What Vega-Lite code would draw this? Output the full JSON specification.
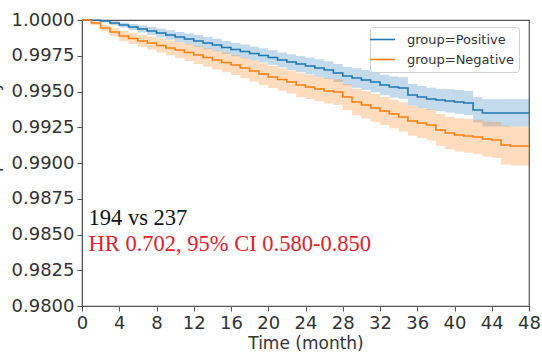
{
  "$schema": "https://vega.github.io/schema/vega-lite/v6.json",
  "width": 447,
  "height": 286,
  "autosize": {"type": "none"},
  "padding": {"left": 82, "top": 20, "right": 13, "bottom": 48},
  "background": "white",
  "config": {
    "view": {"stroke": "#555", "strokeWidth": 1.2},
    "axis": {
      "labelFont": "DejaVu Sans", "labelFontSize": 18, "labelColor": "#333",
      "titleFont": "DejaVu Sans", "titleFontSize": 17, "titleFontWeight": "normal", "titleColor": "#333",
      "domainColor": "#555", "tickColor": "#555", "tickSize": 5, "labelPadding": 3, "grid": false,
      "labelOverlap": false, "labelFlush": false
    },
    "legend": {
      "orient": "none", "legendX": 288, "legendY": 7, "title": null,
      "symbolType": "M-2,0H2", "symbolSize": 156, "symbolStrokeWidth": 1.6, "symbolOpacity": 1,
      "labelFont": "DejaVu Sans", "labelFontSize": 13, "labelColor": "#333",
      "labelOffset": 17, "padding": 5, "rowPadding": 5,
      "strokeColor": "#d0d0d0", "fillColor": "white", "cornerRadius": 3
    }
  },
  "datasets": {
    "km": [
      {"g":"Positive","t":0,"s":1.0,"lo":1.0,"hi":1.0},
      {"g":"Positive","t":1,"s":0.99998,"lo":0.99995,"hi":1.0},
      {"g":"Positive","t":2,"s":0.99993,"lo":0.99983,"hi":1.0},
      {"g":"Positive","t":3,"s":0.99979,"lo":0.99965,"hi":0.99993},
      {"g":"Positive","t":4,"s":0.99965,"lo":0.99948,"hi":0.99983},
      {"g":"Positive","t":5,"s":0.99951,"lo":0.9993,"hi":0.99972},
      {"g":"Positive","t":6,"s":0.99937,"lo":0.99913,"hi":0.99962},
      {"g":"Positive","t":7,"s":0.99923,"lo":0.99895,"hi":0.99951},
      {"g":"Positive","t":8,"s":0.99909,"lo":0.99878,"hi":0.99941},
      {"g":"Positive","t":9,"s":0.99895,"lo":0.99862,"hi":0.99928},
      {"g":"Positive","t":10,"s":0.99881,"lo":0.99846,"hi":0.99916},
      {"g":"Positive","t":11,"s":0.99867,"lo":0.99829,"hi":0.99906},
      {"g":"Positive","t":12,"s":0.99853,"lo":0.99811,"hi":0.99895},
      {"g":"Positive","t":13,"s":0.99839,"lo":0.99796,"hi":0.99882},
      {"g":"Positive","t":14,"s":0.99825,"lo":0.99781,"hi":0.99869},
      {"g":"Positive","t":15,"s":0.99808,"lo":0.99763,"hi":0.99854},
      {"g":"Positive","t":16,"s":0.99794,"lo":0.99747,"hi":0.99841},
      {"g":"Positive","t":17,"s":0.9978,"lo":0.99732,"hi":0.99828},
      {"g":"Positive","t":18,"s":0.99766,"lo":0.99717,"hi":0.99815},
      {"g":"Positive","t":19,"s":0.99752,"lo":0.99702,"hi":0.99802},
      {"g":"Positive","t":20,"s":0.99738,"lo":0.99687,"hi":0.99789},
      {"g":"Positive","t":21,"s":0.9972,"lo":0.99668,"hi":0.99773},
      {"g":"Positive","t":22,"s":0.99706,"lo":0.99651,"hi":0.99761},
      {"g":"Positive","t":23,"s":0.99692,"lo":0.99635,"hi":0.99749},
      {"g":"Positive","t":24,"s":0.99678,"lo":0.99619,"hi":0.99738},
      {"g":"Positive","t":25,"s":0.99664,"lo":0.99603,"hi":0.99725},
      {"g":"Positive","t":26,"s":0.9965,"lo":0.99588,"hi":0.99712},
      {"g":"Positive","t":27,"s":0.99629,"lo":0.99566,"hi":0.99692},
      {"g":"Positive","t":28,"s":0.99608,"lo":0.99543,"hi":0.99673},
      {"g":"Positive","t":29,"s":0.99594,"lo":0.99526,"hi":0.99662},
      {"g":"Positive","t":30,"s":0.9958,"lo":0.9951,"hi":0.9965},
      {"g":"Positive","t":31,"s":0.99566,"lo":0.99495,"hi":0.99637},
      {"g":"Positive","t":32,"s":0.99545,"lo":0.99473,"hi":0.99617},
      {"g":"Positive","t":33,"s":0.99531,"lo":0.99458,"hi":0.99605},
      {"g":"Positive","t":34,"s":0.99524,"lo":0.99449,"hi":0.99599},
      {"g":"Positive","t":35,"s":0.99476,"lo":0.994,"hi":0.99552},
      {"g":"Positive","t":36,"s":0.99462,"lo":0.99385,"hi":0.99539},
      {"g":"Positive","t":37,"s":0.99448,"lo":0.9937,"hi":0.99526},
      {"g":"Positive","t":38,"s":0.99441,"lo":0.99362,"hi":0.9952},
      {"g":"Positive","t":39,"s":0.99434,"lo":0.99354,"hi":0.99515},
      {"g":"Positive","t":40,"s":0.99427,"lo":0.99344,"hi":0.9951},
      {"g":"Positive","t":41,"s":0.9942,"lo":0.99335,"hi":0.99505},
      {"g":"Positive","t":42,"s":0.99371,"lo":0.99284,"hi":0.99459},
      {"g":"Positive","t":43,"s":0.9935,"lo":0.99256,"hi":0.99445},
      {"g":"Positive","t":44,"s":0.9935,"lo":0.99256,"hi":0.99445},
      {"g":"Positive","t":45,"s":0.9935,"lo":0.99256,"hi":0.99445},
      {"g":"Positive","t":46,"s":0.9935,"lo":0.99256,"hi":0.99445},
      {"g":"Positive","t":47,"s":0.9935,"lo":0.99256,"hi":0.99445},
      {"g":"Positive","t":48,"s":0.9935,"lo":0.99256,"hi":0.99445},
      {"g":"Negative","t":0,"s":1.0,"lo":1.0,"hi":1.0},
      {"g":"Negative","t":1,"s":0.99979,"lo":0.99965,"hi":0.99993},
      {"g":"Negative","t":2,"s":0.99944,"lo":0.99923,"hi":0.99965},
      {"g":"Negative","t":3,"s":0.99916,"lo":0.99888,"hi":0.99944},
      {"g":"Negative","t":4,"s":0.99888,"lo":0.99853,"hi":0.99923},
      {"g":"Negative","t":5,"s":0.99871,"lo":0.99833,"hi":0.9991},
      {"g":"Negative","t":6,"s":0.99853,"lo":0.99811,"hi":0.99895},
      {"g":"Negative","t":7,"s":0.99839,"lo":0.99794,"hi":0.99885},
      {"g":"Negative","t":8,"s":0.99822,"lo":0.99773,"hi":0.99871},
      {"g":"Negative","t":9,"s":0.99804,"lo":0.99752,"hi":0.99857},
      {"g":"Negative","t":10,"s":0.9979,"lo":0.99734,"hi":0.99846},
      {"g":"Negative","t":11,"s":0.99773,"lo":0.99714,"hi":0.99833},
      {"g":"Negative","t":12,"s":0.99755,"lo":0.99692,"hi":0.99818},
      {"g":"Negative","t":13,"s":0.99738,"lo":0.99673,"hi":0.99803},
      {"g":"Negative","t":14,"s":0.9972,"lo":0.99654,"hi":0.99787},
      {"g":"Negative","t":15,"s":0.99703,"lo":0.99634,"hi":0.99772},
      {"g":"Negative","t":16,"s":0.99685,"lo":0.99615,"hi":0.99755},
      {"g":"Negative","t":17,"s":0.99664,"lo":0.99592,"hi":0.99736},
      {"g":"Negative","t":18,"s":0.99643,"lo":0.9957,"hi":0.99717},
      {"g":"Negative","t":19,"s":0.99622,"lo":0.99546,"hi":0.99698},
      {"g":"Negative","t":20,"s":0.99601,"lo":0.99524,"hi":0.99678},
      {"g":"Negative","t":21,"s":0.99584,"lo":0.99505,"hi":0.99663},
      {"g":"Negative","t":22,"s":0.99566,"lo":0.99486,"hi":0.99647},
      {"g":"Negative","t":23,"s":0.99545,"lo":0.99462,"hi":0.99628},
      {"g":"Negative","t":24,"s":0.99531,"lo":0.99447,"hi":0.99615},
      {"g":"Negative","t":25,"s":0.99517,"lo":0.99431,"hi":0.99603},
      {"g":"Negative","t":26,"s":0.99503,"lo":0.99416,"hi":0.99591},
      {"g":"Negative","t":27,"s":0.99496,"lo":0.99406,"hi":0.99586},
      {"g":"Negative","t":28,"s":0.99462,"lo":0.99371,"hi":0.99553},
      {"g":"Negative","t":29,"s":0.99427,"lo":0.99334,"hi":0.9952},
      {"g":"Negative","t":30,"s":0.99406,"lo":0.99312,"hi":0.99501},
      {"g":"Negative","t":31,"s":0.99385,"lo":0.99288,"hi":0.99482},
      {"g":"Negative","t":32,"s":0.99364,"lo":0.99266,"hi":0.99462},
      {"g":"Negative","t":33,"s":0.99343,"lo":0.99243,"hi":0.99443},
      {"g":"Negative","t":34,"s":0.99322,"lo":0.99221,"hi":0.99424},
      {"g":"Negative","t":35,"s":0.99294,"lo":0.9919,"hi":0.99398},
      {"g":"Negative","t":36,"s":0.9928,"lo":0.99175,"hi":0.99385},
      {"g":"Negative","t":37,"s":0.99266,"lo":0.99158,"hi":0.99374},
      {"g":"Negative","t":38,"s":0.99231,"lo":0.9912,"hi":0.99342},
      {"g":"Negative","t":39,"s":0.9921,"lo":0.99097,"hi":0.99323},
      {"g":"Negative","t":40,"s":0.99196,"lo":0.99081,"hi":0.99312},
      {"g":"Negative","t":41,"s":0.99189,"lo":0.99071,"hi":0.99307},
      {"g":"Negative","t":42,"s":0.99182,"lo":0.99061,"hi":0.99303},
      {"g":"Negative","t":43,"s":0.99168,"lo":0.99045,"hi":0.99291},
      {"g":"Negative","t":44,"s":0.99161,"lo":0.99035,"hi":0.99287},
      {"g":"Negative","t":45,"s":0.99126,"lo":0.9899,"hi":0.99263},
      {"g":"Negative","t":46,"s":0.99119,"lo":0.98983,"hi":0.99256},
      {"g":"Negative","t":47,"s":0.99119,"lo":0.98983,"hi":0.99256},
      {"g":"Negative","t":48,"s":0.99119,"lo":0.98983,"hi":0.99256}
    ],
    "notes": [
      {"kind": "n", "t": 0.7, "v": 0.98565, "label": "194 vs 237"},
      {"kind": "hr", "t": 0.7, "v": 0.98385, "label": "HR 0.702, 95% CI 0.580-0.850"}
    ]
  },
  "layer": [
    {
      "data": {"name": "km"},
      "mark": {"type": "area", "interpolate": "step-after", "opacity": 0.27},
      "encoding": {
        "x": {"field": "t", "type": "quantitative", "scale": {"domain": [0, 48], "nice": false},
              "axis": {"values": [0,4,8,12,16,20,24,28,32,36,40,44,48], "tickCount": 20, "labelOverlap": false, "labelFlush": false, "title": "Time (month)", "titlePadding": 3}},
        "y": {"field": "lo", "type": "quantitative", "scale": {"domain": [0.98, 1.0], "nice": false, "zero": false},
              "axis": {"values": [0.98,0.9825,0.985,0.9875,0.99,0.9925,0.995,0.9975,1.0], "tickCount": 20, "labelOverlap": false, "labelFlush": false, "format": ".4f", "title": "Survival probability", "titlePadding": 9}},
        "y2": {"field": "hi"},
        "color": {"field": "g", "type": "nominal", "scale": {"domain": ["Positive", "Negative"], "range": ["#1f77b4", "#ff7f0e"]},
                  "legend": {"labelExpr": "'group=' + datum.label"}}
      }
    },
    {
      "data": {"name": "km"},
      "mark": {"type": "line", "interpolate": "step-after", "strokeWidth": 1.6},
      "encoding": {
        "x": {"field": "t", "type": "quantitative"},
        "y": {"field": "s", "type": "quantitative"},
        "color": {"field": "g", "type": "nominal", "legend": {"labelExpr": "'group=' + datum.label"}}
      }
    },
    {
      "data": {"name": "notes"},
      "transform": [{"filter": "datum.kind == 'n'"}],
      "mark": {"type": "text", "align": "left", "baseline": "alphabetic", "font": "Liberation Serif", "fontSize": 22.5, "color": "#111"},
      "encoding": {
        "x": {"field": "t", "type": "quantitative"},
        "y": {"field": "v", "type": "quantitative"},
        "text": {"field": "label"}
      }
    },
    {
      "data": {"name": "notes"},
      "transform": [{"filter": "datum.kind == 'hr'"}],
      "mark": {"type": "text", "align": "left", "baseline": "alphabetic", "font": "Liberation Serif", "fontSize": 22.5, "color": "#e5202a"},
      "encoding": {
        "x": {"field": "t", "type": "quantitative"},
        "y": {"field": "v", "type": "quantitative"},
        "text": {"field": "label"}
      }
    }
  ]
}
